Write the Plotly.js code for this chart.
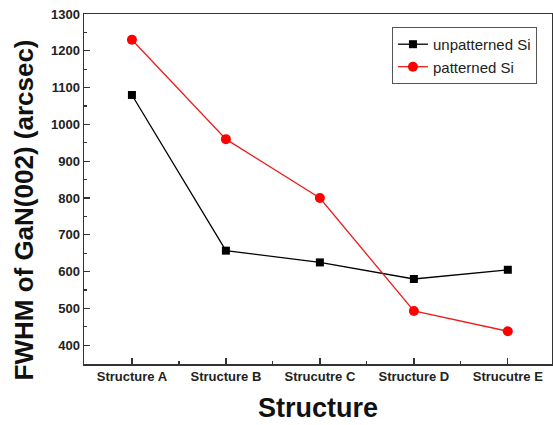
<!DOCTYPE html>
<html>
<head>
<meta charset="utf-8">
<script src="https://cdn.plot.ly/plotly-3.0.1.min.js"></script>
<style>html,body{margin:0;padding:0;background:#fff;}#chart{width:553px;height:425px;}</style>
</head>
<body>
<div id="chart"></div>
<script>
const categories = ["Structure A", "Structure B", "Strucutre C", "Structure D", "Strucutre E"];
const unpatterned = [1080, 657, 625, 580, 605];
const patterned = [1230, 960, 800, 493, 438];
const yTickVals = [400, 500, 600, 700, 800, 900, 1000, 1100, 1200, 1300];
const yTitle = "FWHM of GaN(002) (arcsec)";
const xTitle = "Structure";

const idx = categories.map((c, i) => i);
const FONT = "Liberation Sans, Arial, sans-serif";

const traces = [
  {
    x: idx, y: unpatterned, name: "unpatterned Si", type: "scatter", mode: "lines+markers",
    line: {color: "#000000", width: 1.3},
    marker: {symbol: "square", size: 8, color: "#000000"}
  },
  {
    x: idx, y: patterned, name: "patterned Si", type: "scatter", mode: "lines+markers",
    line: {color: "#ee1c1c", width: 1.3},
    marker: {symbol: "circle", size: 10, color: "#ff0000"}
  }
];

const layout = {
  width: 553, height: 425,
  margin: {l: 84, r: 1, t: 14, b: 61},
  paper_bgcolor: "#ffffff", plot_bgcolor: "#ffffff",
  showlegend: true,
  legend: {
    x: 0.658, y: 0.963, xanchor: "left", yanchor: "top",
    bgcolor: "#ffffff", bordercolor: "#555555", borderwidth: 1,
    font: {family: FONT, size: 15, color: "#222222"},
    tracegroupgap: 0
  },
  xaxis: {
    type: "linear", range: [-0.51, 4.47],
    tickvals: idx, ticktext: categories,
    ticks: "inside", ticklen: 6, tickwidth: 1.3, tickcolor: "#333333",
    minor: {dtick: 0.5, tick0: 0.5, ticks: "inside", ticklen: 3, tickwidth: 1.2, tickcolor: "#333333", showgrid: false},
    showline: true, linecolor: "#333333", linewidth: 1.5, mirror: true,
    showgrid: false, zeroline: false,
    tickfont: {family: FONT, size: 13, color: "#222222", weight: "bold"},
    title: {text: xTitle, font: {family: FONT, size: 27, color: "#111111", weight: "bold"}, standoff: 15}
  },
  yaxis: {
    range: [349, 1300],
    tickvals: yTickVals,
    ticks: "inside", ticklen: 6, tickwidth: 1.3, tickcolor: "#333333",
    minor: {dtick: 50, tick0: 350, ticks: "inside", ticklen: 3, tickwidth: 1.2, tickcolor: "#333333", showgrid: false},
    showline: true, linecolor: "#333333", linewidth: 1.5, mirror: true,
    showgrid: false, zeroline: false,
    tickfont: {family: FONT, size: 13, color: "#222222", weight: "bold"}
  },
  annotations: [{
    text: yTitle, xref: "paper", yref: "paper", x: -0.128, y: 0.439,
    xanchor: "center", yanchor: "middle", textangle: -90, showarrow: false,
    font: {family: FONT, size: 26, color: "#111111", weight: "bold"}
  }]
};

Plotly.newPlot("chart", traces, layout, {displayModeBar: false, staticPlot: true});
</script>
</body>
</html>
